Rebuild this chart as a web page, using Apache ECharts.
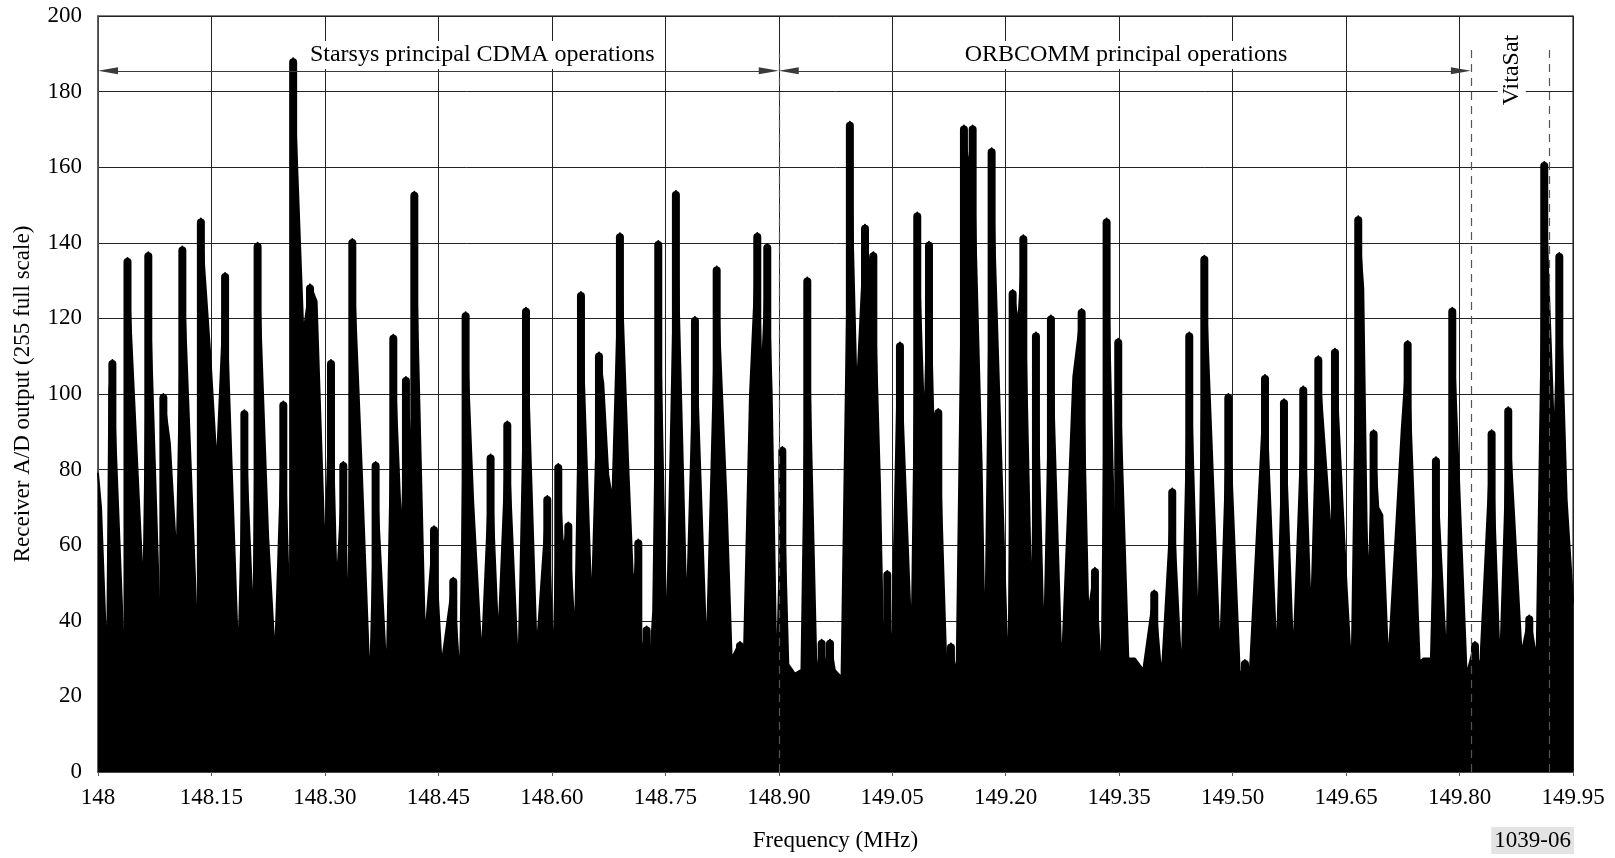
<!DOCTYPE html>
<html><head><meta charset="utf-8">
<script src="https://cdn.jsdelivr.net/npm/echarts@6/dist/echarts.min.js"></script>
<style>html,body{margin:0;padding:0;background:#fff}#c{width:1615px;height:858px}</style>
</head><body><div id="c"></div>
<script>
// Spectrum envelope: frequency (MHz) and receiver A/D level
const freqMHz = [
148.000,148.004,148.012,148.015,148.019,148.036,148.039,148.060,148.0665,148.084,
148.0864,148.095,148.104,148.1115,148.1326,148.136,148.148,148.157,148.168,148.1855,
148.1935,148.2054,148.211,148.225,148.234,148.245,148.254,148.258,148.2715,148.2803,
148.289,148.300,148.308,148.3155,148.3243,148.331,148.3362,148.3485,148.3595,148.367,
148.3816,148.3904,148.4014,148.4071,148.4146,148.4182,148.4323,148.4442,148.4543,148.4697,
148.4785,148.486,148.496,148.5072,148.519,148.5292,148.5411,148.5557,148.5658,148.5799,
148.594,148.602,148.6085,148.615,148.6218,148.6306,148.6385,148.6526,148.6623,148.668,
148.6746,148.680,148.690,148.701,148.7077,148.7143,148.7187,148.7253,148.7297,148.734,
148.7407,148.7517,148.764,148.7782,148.7892,148.8046,148.8179,148.831,148.8377,148.8487,
148.8531,148.862,148.8716,148.8774,148.8848,148.8906,148.8972,148.9047,148.9126,148.9214,
148.930,148.9377,148.950,148.9567,148.961,148.9677,148.974,148.983,148.994,149.003,
149.014,149.0192,149.025,149.0338,149.0382,149.0435,149.0492,149.0571,149.0602,149.0756,
149.0831,149.0924,149.0986,149.1043,149.1109,149.1219,149.1276,149.1351,149.1448,149.1506,
149.1563,149.1682,149.1726,149.1814,149.2034,149.2092,149.2167,149.2233,149.2343,149.240,
149.2506,149.2598,149.274,149.2894,149.3004,149.3092,149.318,149.3268,149.3334,149.3444,
149.3488,149.3621,149.3709,149.3819,149.3964,149.4061,149.4202,149.4326,149.4427,149.4546,
149.4626,149.4833,149.4943,149.5097,149.5163,149.5229,149.5428,149.5582,149.5679,149.5802,
149.5934,149.6036,149.6133,149.6318,149.6353,149.6463,149.6507,149.6573,149.6661,149.6727,
149.6771,149.6793,149.6864,149.6926,149.6979,149.7058,149.7234,149.7314,149.7477,149.7521,
149.7622,149.7688,149.7829,149.7904,149.8094,149.8204,149.827,149.8424,149.8534,149.8644,
149.882,149.8922,149.9019,149.912,149.9253,149.9319,149.9416,149.950
];
const level = [
79,70,27,101,109,22,136,47,137.5,24,
100,87,55.6,139,28.5,146.4,111.6,81,132,29,
95.7,38,140,62,30,98,35.5,188.8,116,129,
124.5,57,109,48.5,82,38,141,81,22,82,
25,115.7,61.5,104.5,84,153.5,35,65,28.5,51.4,
24,121.6,71.5,30,84,35,92.7,25.7,122.8,32,
73,29,81.5,59,66,35.5,127,43,111,102.8,
78.6,72,142.5,81,48.5,61.5,31.4,38.5,28.5,42.6,
140.5,33.8,153.7,41.4,120.4,30.8,133.7,71.5,30,34.4,
23.7,100,142.6,104.5,139.7,100.5,23.7,86,28.5,26,
27,130.8,25.7,35,28,35,27,25,172,100,
144.8,135,137.5,76,30.8,53.2,28.5,104,113.6,33.8,
148,91,140.3,94,96,25.7,34,25.7,171,160,
171,81,30,165,23,127.5,119,142,41.4,116.3,
32,120.8,26.3,104.5,122.5,42,54,24,146.4,55.6,
114.6,30,30,27,48,25,75,25,116.3,34.7,
136.6,30,100,25,29.6,27,105,30,98.6,30,
102,40,110,58,112,67,49,25.7,147,128,
66,48,90.4,70,68,28.5,90,114,26.8,30,
30,83.3,28.5,122.8,25.7,34.4,27,90.4,27,96.5,
31.4,41.4,30,161.4,87,137.3,72,45
];
const xTickLabels = ['148','148.15','148.30','148.45','148.60','148.75','148.90','149.05','149.20','149.35','149.50','149.65','149.80','149.95'];
const bandEdgesMHz = [148.0, 148.90, 149.815];
const bandNames = ['Starsys principal CDMA operations', 'ORBCOMM principal operations'];
const bandLabelMHz = [148.508, 149.359];
const dashedMHz = [148.90, 149.815, 149.918];
const vitaLabel = 'VitaSat';
const vitaLabelMHz = 149.869;
const figureId = '1039-06';

const F0 = 148;
const toX = f => (f - F0) * 1000; // kHz offset from 148 MHz so ticks start at the axis minimum
const FONT = 'Liberation Serif';
const arrowY = 185.5;
const KHZ_PER_PX = 1950 / 1475;

const seriesData = freqMHz.map((f, i) => [toX(f), level[i]]);
// local maxima of the envelope: drawn as thick rounded columns like the plotted trace
const peakData = [];
for (let i = 1; i < level.length - 1; i++) {
  if (level[i] > level[i - 1] && level[i] >= level[i + 1]) peakData.push([toX(freqMHz[i]), level[i]]);
}

const headHalf = 10 * KHZ_PER_PX;
const arrowLines = [];
for (let i = 0; i < bandNames.length; i++) {
  arrowLines.push([
    {coord: [toX(bandEdgesMHz[i]) + headHalf, arrowY], symbol: 'triangle', symbolSize: [7, 20]},
    {coord: [toX(bandEdgesMHz[i + 1]) - headHalf, arrowY], symbol: 'triangle', symbolSize: [7, 20]}
  ]);
}
const lineStyleArrow = {color: '#3a3a3a', width: 1.2, type: 'solid'};
arrowLines.forEach(p => { p[0].lineStyle = lineStyleArrow; });
const dashLines = dashedMHz.map((f, i) => [
  {coord: [toX(f), 0], symbol: 'none', lineStyle: {color: '#555', width: 1.2, type: [8, 6]}},
  {coord: [toX(f), i === 0 ? 190 : 191], symbol: 'none'}
]);

const chart = echarts.init(document.getElementById('c'), null, {renderer: 'canvas'});
chart.setOption({
  animation: false,
  backgroundColor: '#fff',
  grid: {left: 98, right: 42, top: 16, bottom: 86, show: true, borderColor: '#555', borderWidth: 1.5, backgroundColor: 'transparent'},
  xAxis: {
    type: 'value', min: 0, max: 1950, interval: 150,
    name: 'Frequency (MHz)', nameLocation: 'middle', nameGap: 57,
    nameTextStyle: {fontFamily: FONT, fontSize: 23, color: '#000'},
    axisLine: {show: true, lineStyle: {color: '#555', width: 1.5}},
    axisTick: {show: true, length: 4, lineStyle: {color: '#555'}},
    axisLabel: {fontFamily: FONT, fontSize: 23, color: '#000', margin: 14,
      formatter: v => xTickLabels[Math.round(v / 150)]},
    splitLine: {show: true, lineStyle: {color: '#222', width: 1}}
  },
  yAxis: {
    type: 'value', min: 0, max: 200, interval: 20,
    name: 'Receiver A/D output (255 full scale)', nameLocation: 'middle', nameGap: 64,
    nameTextStyle: {fontFamily: FONT, fontSize: 23, color: '#000'},
    axisLine: {show: true, lineStyle: {color: '#555', width: 1.5}},
    axisTick: {show: false},
    axisLabel: {fontFamily: FONT, fontSize: 23, color: '#000', margin: 16},
    splitLine: {show: true, lineStyle: {color: '#222', width: 1}}
  },
  series: [
    {
      type: 'line', name: 'annotations', data: [], z: 1, silent: true,
      markLine: {
        silent: true, animation: false,
        symbol: ['none', 'none'],
        label: {show: false},
        data: dashLines.concat(arrowLines)
      }
    },
    {
      type: 'line', name: 'spectrum', data: seriesData, z: 2,
      showSymbol: false, silent: true,
      lineStyle: {color: '#000', width: 2, join: 'round', cap: 'round'},
      areaStyle: {color: '#000', opacity: 1},
      emphasis: {disabled: true}
    },
    {
      type: 'bar', name: 'peaks', data: peakData, z: 2, silent: true,
      barWidth: 8,
      itemStyle: {color: '#000', borderRadius: [4, 4, 0, 0]},
      emphasis: {disabled: true}
    },
    {
      type: 'line', name: 'labels', data: [], z: 3, silent: true,
      markPoint: {
        silent: true, animation: false, symbolSize: 0,
        data: [
          {coord: [toX(bandLabelMHz[0]), 189.7], label: {formatter: bandNames[0]}},
          {coord: [toX(bandLabelMHz[1]), 189.7], label: {formatter: bandNames[1]}},
          {coord: [toX(vitaLabelMHz), 185.7], label: {formatter: vitaLabel, rotate: 90}}
        ],
        label: {show: true, position: 'inside', fontFamily: FONT, fontSize: 24, color: '#000',
          backgroundColor: '#fff', padding: [2, 4]}
      }
    }
  ],
  graphic: [
    {type: 'text', right: 41, top: 827,
     style: {text: figureId, font: '23px "Liberation Serif"', fill: '#000', backgroundColor: '#e3e3e3', padding: [2, 3]}}
  ]
});
</script>
</body></html>
